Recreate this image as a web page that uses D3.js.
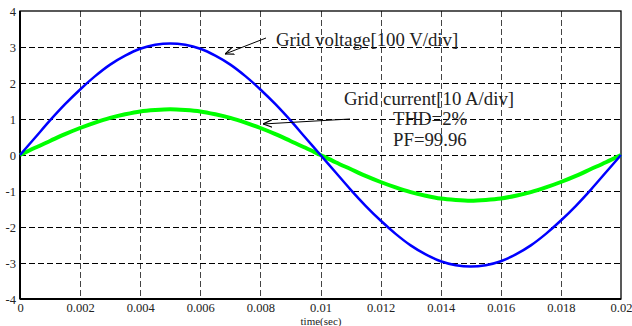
<!DOCTYPE html>
<html lang="en">
<head>
<meta charset="utf-8">
<title>Grid voltage and current</title>
<script src="https://d3js.org/d3.v7.min.js"></script>
<style>
	body { margin: 0; background: #fff; }
	text { font-family: "Liberation Serif", "Times New Roman", serif; fill: #222; }
</style>
</head>
<body>
<script>
// sample times (sec), every 0.0005 s over one cycle
var times = d3.range(41).map(function(i) { return +(i * 0.0005).toFixed(4); });

// grid voltage [100 V/div]
var voltage = [0, 0.48, 0.96, 1.41, 1.82, 2.19, 2.51, 2.76, 2.95, 3.06, 3.10,
	3.06, 2.95, 2.76, 2.51, 2.19, 1.82, 1.41, 0.96, 0.48, 0,
	-0.48, -0.96, -1.41, -1.82, -2.19, -2.51, -2.76, -2.95, -3.06, -3.10,
	-3.06, -2.95, -2.76, -2.51, -2.19, -1.82, -1.41, -0.96, -0.48, 0];

// grid current [10 A/div]
var current = [0, 0.20, 0.39, 0.58, 0.75, 0.90, 1.03, 1.13, 1.21, 1.25, 1.27,
	1.25, 1.21, 1.13, 1.03, 0.90, 0.75, 0.58, 0.39, 0.20, 0,
	-0.20, -0.39, -0.58, -0.75, -0.90, -1.03, -1.13, -1.21, -1.25, -1.27,
	-1.25, -1.21, -1.13, -1.03, -0.90, -0.75, -0.58, -0.39, -0.20, 0];

var xTicks = [0, 0.002, 0.004, 0.006, 0.008, 0.01, 0.012, 0.014, 0.016, 0.018, 0.02];
var yTicks = [-4, -3, -2, -1, 0, 1, 2, 3, 4];

var width = 632, height = 326;
var pLeft = 20, pRight = 621, pTop = 11, pBottom = 299;

var svg = d3.select("body").append("svg")
	.attr("width", width)
	.attr("height", height);

var x = d3.scaleLinear().domain([0, 0.02]).range([pLeft, pRight]);
var y = d3.scaleLinear().domain([-4, 4]).range([pBottom, pTop]);

// dashed grid
svg.append("g").selectAll("line")
	.data(xTicks.slice(1, -1))
	.enter().append("line")
	.attr("x1", function(d) { return Math.round(x(d)) + 0.5; })
	.attr("x2", function(d) { return Math.round(x(d)) + 0.5; })
	.attr("y1", pTop).attr("y2", pBottom)
	.attr("stroke", "#444").attr("stroke-width", 1)
	.attr("stroke-dasharray", "6,3");

svg.append("g").selectAll("line")
	.data(yTicks.slice(1, -1))
	.enter().append("line")
	.attr("y1", function(d) { return Math.round(y(d)) + 0.5; })
	.attr("y2", function(d) { return Math.round(y(d)) + 0.5; })
	.attr("x1", pLeft).attr("x2", pRight)
	.attr("stroke", "#000").attr("stroke-width", 1)
	.attr("stroke-dasharray", "6,3");

// axes
var xAxis = svg.append("g")
	.attr("transform", "translate(0," + pBottom + ")")
	.call(d3.axisBottom(x).tickValues(xTicks).tickSize(0).tickPadding(4)
		.tickFormat(function(d) { return d === 0 ? "0" : String(+d.toFixed(3)); }));
xAxis.select(".domain").remove();
xAxis.selectAll("text").attr("font-size", 12.5).style("font-family", "Liberation Serif, serif").attr("fill", "#222");

var yAxis = svg.append("g")
	.attr("transform", "translate(" + pLeft + ",0)")
	.call(d3.axisLeft(y).tickValues(yTicks).tickSize(0).tickPadding(4)
		.tickFormat(function(d) { return String(d); }));
yAxis.select(".domain").remove();
yAxis.selectAll("text").attr("font-size", 12.5).style("font-family", "Liberation Serif, serif").attr("fill", "#222");

// frame
svg.append("rect")
	.attr("x", pLeft).attr("y", pTop)
	.attr("width", pRight - pLeft).attr("height", pBottom - pTop)
	.attr("fill", "none").attr("stroke", "#000").attr("stroke-width", 1.3);
svg.append("line")
	.attr("x1", pLeft).attr("x2", pLeft).attr("y1", pTop).attr("y2", pBottom)
	.attr("stroke", "#000").attr("stroke-width", 2);
svg.append("line")
	.attr("x1", pLeft).attr("x2", pRight).attr("y1", pBottom).attr("y2", pBottom)
	.attr("stroke", "#000").attr("stroke-width", 2);

// series
var line = d3.line()
	.x(function(d) { return x(d[0]); })
	.y(function(d) { return y(d[1]); })
	.curve(d3.curveCatmullRom);

svg.append("path")
	.datum(d3.zip(times, current))
	.attr("d", line)
	.attr("fill", "none").attr("stroke", "#00ff00").attr("stroke-width", 4);

svg.append("path")
	.datum(d3.zip(times, voltage))
	.attr("d", line)
	.attr("fill", "none").attr("stroke", "#0000ff").attr("stroke-width", 2.5);

// x label
svg.append("text")
	.attr("x", 321).attr("y", 324.5)
	.attr("text-anchor", "middle")
	.attr("font-size", 11)
	.text("time(sec)");

// annotations
svg.append("defs").append("marker")
	.attr("id", "arrow")
	.attr("viewBox", "0 0 10 10")
	.attr("refX", 10).attr("refY", 5)
	.attr("markerWidth", 9).attr("markerHeight", 9)
	.attr("markerUnits", "userSpaceOnUse")
	.attr("orient", "auto")
	.append("path")
	.attr("d", "M0,1 L10,5 L0,9")
	.attr("fill", "none").attr("stroke", "#000").attr("stroke-width", 1.3);

svg.append("line")
	.attr("x1", 266).attr("y1", 38).attr("x2", 225).attr("y2", 54)
	.attr("stroke", "#000").attr("stroke-width", 1).attr("marker-end", "url(#arrow)");
svg.append("line")
	.attr("x1", 350).attr("y1", 119).attr("x2", 263).attr("y2", 124)
	.attr("stroke", "#000").attr("stroke-width", 1).attr("marker-end", "url(#arrow)");

svg.append("text").attr("x", 276).attr("y", 46).attr("font-size", 18.8)
	.text("Grid voltage[100 V/div]");
svg.append("text").attr("x", 344).attr("y", 105).attr("font-size", 18.8)
	.text("Grid current[10 A/div]");
svg.append("text").attr("x", 393).attr("y", 125).attr("font-size", 18.8)
	.text("THD=2%");
svg.append("text").attr("x", 393).attr("y", 146).attr("font-size", 18.8)
	.text("PF=99.96");
</script>
</body>
</html>
